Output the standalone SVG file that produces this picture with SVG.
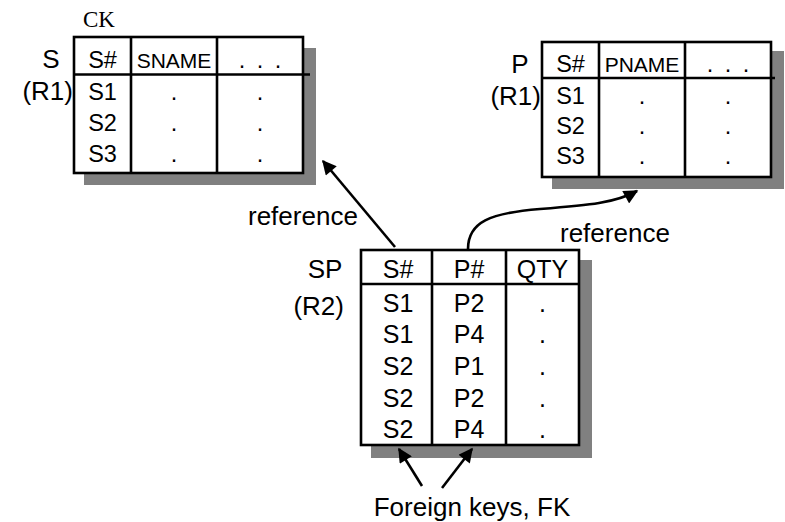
<svg xmlns="http://www.w3.org/2000/svg" width="785" height="522" viewBox="0 0 785 522">
  <style>
    text { font-family: "Liberation Sans", Arial, sans-serif; fill: #000; }
    .lbl { font-size: 26px; }
    .cell { font-size: 23.5px; text-anchor: middle; }
    .cellsp { font-size: 25px; text-anchor: middle; }
    .hdr { font-size: 21px; text-anchor: middle; }
    .ck { font-family: "Liberation Serif", "Times New Roman", serif; font-size: 23px; }
    .end { text-anchor: end; }
    .mid { text-anchor: middle; }
    .shadow { fill: #808080; }
    .box { fill: #fff; stroke: #000; stroke-width: 2.6; }
    .rule { stroke: #000; stroke-width: 2.6; fill: none; }
    .conn { stroke: #000; stroke-width: 2.6; fill: none; marker-end: url(#head); }
  </style>
  <defs>
    <marker id="head" viewBox="0 0 10 10" refX="9" refY="5" markerWidth="6.5" markerHeight="5.5" markerUnits="strokeWidth" orient="auto">
      <path d="M0,0 L10,5 L0,10 Z" fill="#000"/>
    </marker>
  </defs>

  <!-- Relation S (R1) -->
  <g id="table-S">
    <rect class="shadow" x="84" y="48" width="232" height="137"/>
    <rect class="box" x="74" y="37" width="229" height="136"/>
    <line class="rule" x1="131" y1="37" x2="131" y2="173"/>
    <line class="rule" x1="217" y1="37" x2="217" y2="173"/>
    <line class="rule" x1="74" y1="74.5" x2="310" y2="74.5"/>
    <text class="ck" x="83" y="27">CK</text>
    <text class="lbl mid" x="51" y="68">S</text>
    <text class="lbl end" x="73" y="100">(R1)</text>
    <text class="cell" x="102.5" y="68">S#</text>
    <text class="hdr" x="174" y="68">SNAME</text>
    <text class="cell" x="260" y="68" word-spacing="5">. . .</text>
    <text class="cell" x="102.5" y="100">S1</text>
    <text class="cell" x="102.5" y="131">S2</text>
    <text class="cell" x="102.5" y="162">S3</text>
    <text class="cell" x="174" y="100">.</text>
    <text class="cell" x="174" y="131">.</text>
    <text class="cell" x="174" y="162">.</text>
    <text class="cell" x="260" y="100">.</text>
    <text class="cell" x="260" y="131">.</text>
    <text class="cell" x="260" y="162">.</text>
  </g>

  <!-- Relation P (R1) -->
  <g id="table-P">
    <rect class="shadow" x="552" y="51" width="232" height="138"/>
    <rect class="box" x="542" y="42" width="229" height="135"/>
    <line class="rule" x1="599" y1="42" x2="599" y2="177"/>
    <line class="rule" x1="685" y1="42" x2="685" y2="177"/>
    <line class="rule" x1="542" y1="78" x2="775" y2="78"/>
    <text class="lbl mid" x="520" y="73">P</text>
    <text class="lbl end" x="541" y="105">(R1)</text>
    <text class="cell" x="570.5" y="72">S#</text>
    <text class="hdr" x="642" y="72">PNAME</text>
    <text class="cell" x="728" y="72" word-spacing="5">. . .</text>
    <text class="cell" x="570.5" y="104">S1</text>
    <text class="cell" x="570.5" y="134">S2</text>
    <text class="cell" x="570.5" y="164">S3</text>
    <text class="cell" x="642" y="104">.</text>
    <text class="cell" x="642" y="134">.</text>
    <text class="cell" x="642" y="164">.</text>
    <text class="cell" x="728" y="104">.</text>
    <text class="cell" x="728" y="134">.</text>
    <text class="cell" x="728" y="164">.</text>
  </g>

  <!-- Relation SP (R2) -->
  <g id="table-SP">
    <rect class="shadow" x="371" y="260" width="221" height="198"/>
    <rect class="box" x="361" y="250" width="218" height="195"/>
    <line class="rule" x1="432" y1="250" x2="432" y2="445"/>
    <line class="rule" x1="506" y1="250" x2="506" y2="445"/>
    <line class="rule" x1="361" y1="284" x2="579" y2="284"/>
    <text class="lbl mid" x="325" y="278">SP</text>
    <text class="lbl end" x="344" y="315">(R2)</text>
    <text class="cellsp" x="398" y="278">S#</text>
    <text class="cellsp" x="469" y="278">P#</text>
    <text class="cellsp" x="542.5" y="278">QTY</text>
    <text class="cellsp" x="398" y="312">S1</text>
    <text class="cellsp" x="398" y="343">S1</text>
    <text class="cellsp" x="398" y="375">S2</text>
    <text class="cellsp" x="398" y="407">S2</text>
    <text class="cellsp" x="398" y="438">S2</text>
    <text class="cellsp" x="469" y="312">P2</text>
    <text class="cellsp" x="469" y="343">P4</text>
    <text class="cellsp" x="469" y="375">P1</text>
    <text class="cellsp" x="469" y="407">P2</text>
    <text class="cellsp" x="469" y="438">P4</text>
    <text class="cellsp" x="542.5" y="312">.</text>
    <text class="cellsp" x="542.5" y="343">.</text>
    <text class="cellsp" x="542.5" y="375">.</text>
    <text class="cellsp" x="542.5" y="407">.</text>
    <text class="cellsp" x="542.5" y="438">.</text>
  </g>

  <!-- Reference arrows and foreign key pointers -->
  <g id="connectors">
    <line class="conn" x1="395" y1="247" x2="323" y2="161"/>
    <path class="conn" d="M468,249 C468,222 490,213 540,209 C590,205 615,203 637,191"/>
    <line class="conn" x1="422" y1="486" x2="399" y2="449"/>
    <line class="conn" x1="442" y1="488" x2="472" y2="449"/>
    <text class="lbl" x="248" y="225">reference</text>
    <text class="lbl" x="560" y="242">reference</text>
    <text class="lbl mid" x="472" y="516">Foreign keys, FK</text>
  </g>
</svg>
